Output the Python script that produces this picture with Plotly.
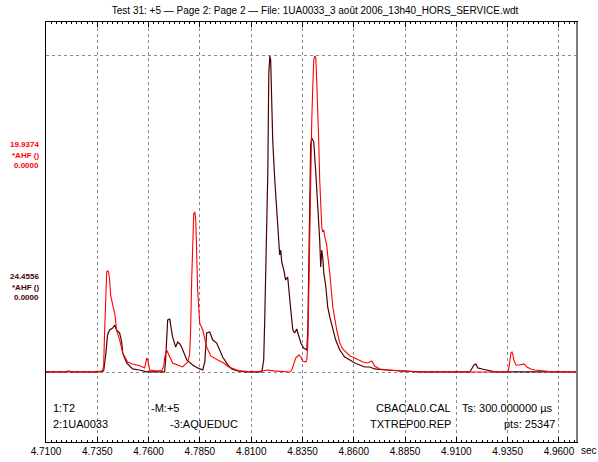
import plotly.graph_objects as go

# ---------------- data ----------------
TITLE = "Test 31: +5 \u2014 Page 2: Page 2 \u2014 File: 1UA0033_3 ao\u00fbt 2006_13h40_HORS_SERVICE.wdt"
TICK_VALUES = [4.71, 4.735, 4.76, 4.785, 4.81, 4.835, 4.86, 4.885, 4.91, 4.935, 4.96]
TICK_LABELS = ["4.7100", "4.7350", "4.7600", "4.7850", "4.8100", "4.8350",
               "4.8600", "4.8850", "4.9100", "4.9350", "4.9600"]

RED_FULL = 19.9374   # channel full scale (*AHF ())
DARK_FULL = 24.4556

RED_T = [4.7100, 4.7352, 4.7376, 4.7381, 4.7386, 4.7391, 4.7396, 4.7400, 4.7405, 4.7410,
         4.7415, 4.7425, 4.7435, 4.7444, 4.7459, 4.7474, 4.7488, 4.7498, 4.7522, 4.7542,
         4.7561, 4.7581, 4.7586, 4.7591, 4.7596, 4.7605, 4.7630, 4.7664, 4.7674, 4.7678,
         4.7688, 4.7703, 4.7717, 4.7742, 4.7766, 4.7781, 4.7791, 4.7800, 4.7805, 4.7810,
         4.7815, 4.7820, 4.7825, 4.7830, 4.7834, 4.7839, 4.7849, 4.7864, 4.7883, 4.7893,
         4.7903, 4.7937, 4.7966, 4.7991, 4.8020, 4.8044, 4.8117, 4.8161, 4.8181, 4.8210,
         4.8288, 4.8298, 4.8308, 4.8317, 4.8332, 4.8342, 4.8351, 4.8366, 4.8371, 4.8376,
         4.8381, 4.8386, 4.8390, 4.8395, 4.8400, 4.8405, 4.8410, 4.8415, 4.8420, 4.8425,
         4.8429, 4.8434, 4.8439, 4.8444, 4.8449, 4.8454, 4.8459, 4.8468, 4.8473, 4.8483,
         4.8498, 4.8507, 4.8517, 4.8532, 4.8546, 4.8566, 4.8581, 4.8595, 4.8615, 4.8644,
         4.8668, 4.8688, 4.8702, 4.8727, 4.8776, 4.8825, 4.8922, 4.9351, 4.9356, 4.9361,
         4.9366, 4.9371, 4.9376, 4.9380, 4.9390, 4.9410, 4.9429, 4.9444, 4.9463, 4.9483,
         4.9532, 4.9580, 4.9683]
RED_V = [0.06, 0.06, 0.13, 0.50, 2.70, 5.22, 6.35, 6.42, 6.35, 5.85,
         4.91, 4.28, 3.77, 2.70, 2.08, 1.26, 0.94, 0.69, 0.57, 0.50,
         0.44, 0.31, 0.69, 0.94, 0.82, 0.19, 0.13, 0.13, 0.44, 0.94,
         1.45, 1.01, 0.63, 0.50, 0.38, 0.57, 0.69, 1.13, 2.70, 5.85,
         8.68, 10.00, 10.13, 9.62, 7.74, 5.22, 3.15, 2.70, 1.64, 1.32,
         1.07, 0.82, 0.63, 0.38, 0.25, 0.13, 0.06, 0.13, 0.19, 0.13,
         0.06, 0.19, 0.57, 0.94, 1.13, 1.01, 0.75, 0.69, 0.82, 1.76,
         5.22, 9.43, 12.77, 15.72, 17.93, 19.69, 19.94, 19.81, 18.12, 16.54,
         14.66, 12.14, 10.25, 9.18, 8.87, 8.99, 8.55, 8.05, 7.42, 6.29,
         4.15, 3.33, 2.70, 1.89, 1.51, 1.26, 1.07, 1.01, 0.88, 0.69,
         0.63, 0.75, 0.44, 0.25, 0.19, 0.13, 0.06, 0.06, 0.31, 0.94,
         1.26, 1.32, 1.13, 0.82, 0.50, 0.50, 0.57, 0.38, 0.25, 0.19,
         0.13, 0.06, 0.06]

DARK_T = [4.7100, 4.7196, 4.7210, 4.7225, 4.7352, 4.7381, 4.7391, 4.7400, 4.7410, 4.7425,
          4.7435, 4.7444, 4.7459, 4.7469, 4.7474, 4.7493, 4.7522, 4.7556, 4.7591, 4.7678,
          4.7683, 4.7688, 4.7693, 4.7703, 4.7717, 4.7732, 4.7742, 4.7752, 4.7761, 4.7786,
          4.7815, 4.7839, 4.7864, 4.7874, 4.7878, 4.7883, 4.7898, 4.7913, 4.7932, 4.7947,
          4.7961, 4.7986, 4.8005, 4.8034, 4.8069, 4.8152, 4.8161, 4.8166, 4.8171, 4.8176,
          4.8181, 4.8186, 4.8191, 4.8195, 4.8200, 4.8205, 4.8215, 4.8225, 4.8234, 4.8239,
          4.8244, 4.8249, 4.8259, 4.8268, 4.8278, 4.8283, 4.8293, 4.8303, 4.8312, 4.8322,
          4.8332, 4.8342, 4.8356, 4.8371, 4.8376, 4.8381, 4.8386, 4.8390, 4.8395, 4.8400,
          4.8405, 4.8415, 4.8425, 4.8434, 4.8439, 4.8444, 4.8449, 4.8454, 4.8464, 4.8473,
          4.8483, 4.8498, 4.8512, 4.8532, 4.8556, 4.8581, 4.8605, 4.8629, 4.8654, 4.8678,
          4.8702, 4.8751, 4.8825, 4.8922, 4.9166, 4.9176, 4.9186, 4.9195, 4.9205, 4.9225,
          4.9254, 4.9288, 4.9683]
DARK_V = [0.08, 0.08, 0.15, 0.08, 0.08, 0.15, 1.39, 2.93, 3.32, 3.47,
          3.70, 3.32, 3.08, 2.39, 1.54, 0.77, 0.31, 0.23, 0.08, 0.08,
          1.00, 2.93, 4.09, 4.16, 2.78, 2.00, 2.39, 2.24, 2.00, 1.00,
          0.62, 0.39, 0.23, 0.85, 2.16, 3.08, 3.16, 2.54, 2.31, 1.77,
          1.23, 0.62, 0.31, 0.15, 0.08, 0.08, 1.00, 4.09, 7.71, 11.80,
          15.42, 23.13, 24.44, 24.13, 21.59, 17.96, 14.88, 12.34, 10.25, 9.10,
          9.48, 8.56, 7.94, 7.17, 7.40, 6.40, 4.86, 3.32, 3.08, 3.39,
          2.85, 2.31, 1.93, 1.77, 3.32, 8.71, 14.88, 17.58, 18.12, 17.96,
          17.81, 15.42, 12.80, 10.25, 8.17, 9.48, 8.87, 7.71, 6.63, 5.09,
          4.32, 3.32, 2.54, 1.77, 1.23, 1.00, 0.77, 0.62, 0.46, 0.46,
          0.31, 0.23, 0.15, 0.08, 0.08, 0.39, 0.62, 0.69, 0.39, 0.31,
          0.23, 0.08, 0.08]

RED = "#ff0000"
DARK = "#4a0000"
GRID = "#8a8a8a"
FONT = "Liberation Sans, Arial, sans-serif"

fig = go.Figure()
fig.add_trace(go.Scatter(x=DARK_T, y=[v / DARK_FULL for v in DARK_V], mode="lines",
                         line=dict(color=DARK, width=1.2), showlegend=False, hoverinfo="skip"))
fig.add_trace(go.Scatter(x=RED_T, y=[v / RED_FULL for v in RED_V], mode="lines",
                         line=dict(color=RED, width=1.1), showlegend=False, hoverinfo="skip"))

L, R, T, B = 46, 21, 22, 20
W, H = 598, 462
pw, ph = W - L - R, H - T - B


def px(x):
    return (x - L) / pw


def py(y):
    return (H - B - y) / ph


ann = []


def text(s, x, y, anchor="left", size=11, color="black", bold=False):
    ann.append(dict(text=("<b>%s</b>" % s) if bold else s, xref="paper", yref="paper",
                    x=px(x), y=py(y), xanchor=anchor, yanchor="middle", showarrow=False,
                    font=dict(family=FONT, size=size, color=color)))


text("19.9374", 41, 144, "right", 8, RED, True)
text("*AHF ()", 41, 155, "right", 8, RED, True)
text("0.0000", 41, 165, "right", 8, RED, True)
text("24.4556", 41, 276, "right", 8, DARK, True)
text("*AHF ()", 41, 287, "right", 8, DARK, True)
text("0.0000", 41, 297, "right", 8, DARK, True)

text("1:T2", 51, 408)
text("2:1UA0033", 51, 424)
text("-M:+5", 149, 408)
text("-3:AQUEDUC", 168, 424)
text("CBACAL0.CAL", 453, 408, "right")
text("TXTREP00.REP", 453, 424, "right")
text("Ts: 300.000000 \u00b5s", 460, 408)
text("pts: 25347", 557, 424, "right")
text("sec", 579, 451, "left", 10)

fig.update_layout(
    width=W, height=H,
    margin=dict(l=L, r=R, t=T, b=B, pad=0, autoexpand=False),
    paper_bgcolor="white", plot_bgcolor="white",
    title=dict(text=TITLE, x=315 / W, xanchor="center", y=1 - 10 / H, yanchor="middle",
               font=dict(family=FONT, size=10, color="black")),
    annotations=ann,
    shapes=[dict(type="line", xref="paper", yref="paper", x0=1, x1=1, y0=0, y1=1,
                 line=dict(color="#7a7a7a", width=2))],
    xaxis=dict(range=[4.71, 4.9688], tickvals=TICK_VALUES, ticktext=TICK_LABELS,
               automargin=False,
               showgrid=True, gridcolor=GRID, griddash="3px,3px", gridwidth=1,
               showline=True, linecolor="black", linewidth=1, mirror="ticks",
               ticks="inside", ticklen=5, tickcolor="black", tickwidth=1,
               minor=dict(dtick=0.0025, tick0=4.71, ticks="inside", ticklen=2,
                          tickcolor="black", showgrid=False),
               tickfont=dict(family=FONT, size=10, color="black"), zeroline=False),
    yaxis=dict(range=[-0.2177, 1.107], tickvals=[0, 1], showticklabels=False, ticks="",
               automargin=False,
               showgrid=True, gridcolor=GRID, griddash="3px,3px", gridwidth=1,
               zeroline=False, showline=True, linecolor="black", linewidth=1, mirror=True),
)

fig.write_html("out.html", config={"displayModeBar": False},
               post_script="document.body.style.margin='0px';document.body.style.overflow='hidden';")
